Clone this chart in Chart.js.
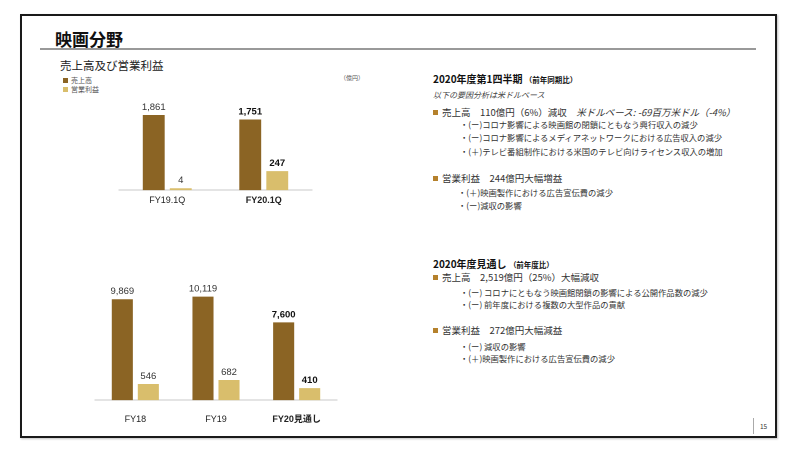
<!DOCTYPE html>
<html>
<head>
<meta charset="utf-8">
<script src="https://cdn.jsdelivr.net/npm/chart.js@4"></script>
<style>
  body { margin: 0; width: 800px; height: 450px; background: #fff; position: relative; overflow: hidden;
         font-family: "Noto Sans CJK JP", "Liberation Sans", sans-serif; color: #222; }
  .abs { position: absolute; white-space: nowrap; }
  #frame { left: 20px; top: 14px; width: 757px; height: 424px; border: 2px solid #1a1a1a; box-sizing: border-box;
           box-shadow: 1px 1px 2px rgba(0,0,0,0.25); }
  #title { left: 55px; top: 26px; font-size: 17px; font-weight: bold; color: #111; }
  #rule { left: 40px; top: 48px; width: 716px; height: 2px; background: #999; }
  #sub { left: 60px; top: 57px; font-size: 11.5px; color: #222; }
  .leg { font-size: 7px; color: #555; }
  .leg i { display: inline-block; width: 5px; height: 5px; margin-right: 3px; vertical-align: 0px; }
  #unit { left: 340px; top: 73px; font-size: 6px; color: #555; }
  .h { font-size: 10px; font-weight: bold; color: #111; }
  .h small { font-size: 7.5px; }
  .it { font-size: 8px; font-style: italic; color: #444; }
  .b { font-size: 9.5px; color: #333; }
  .b i.sq { display: inline-block; width: 5px; height: 5px; background: #b5812c; margin-right: 4px; vertical-align: 1px; }
  .s { font-size: 8.3px; color: #333; }
  #pg { left: 760px; top: 421px; font-size: 6.5px; color: #333; }
  #pgline { left: 753px; top: 418px; width: 1px; height: 16px; background: #aaa; }
  canvas { position: absolute; }
</style>
</head>
<body>
<div class="abs" id="frame"></div>
<div class="abs" id="title">映画分野</div>
<div class="abs" id="rule"></div>
<div class="abs" id="sub">売上高及び営業利益</div>
<div class="abs leg" style="left:63px;top:75px;"><i style="background:#8b6424"></i>売上高</div>
<div class="abs leg" style="left:63px;top:84px;"><i style="background:#d9be6c"></i>営業利益</div>
<div class="abs" id="unit">（億円）</div>

<div class="abs h" style="left:433px;top:71px;">2020年度第1四半期 <small>（前年同期比）</small></div>
<div class="abs it" style="left:433px;top:89px;">以下の要因分析は米ドルベース</div>
<div class="abs b" style="left:433px;top:105px;"><i class="sq"></i>売上高　110億円（6%）減収　<em>米ドルベース: -69百万米ドル（-4%）</em></div>
<div class="abs s" style="left:460px;top:118px;">・(ー)コロナ影響による映画館の閉鎖にともなう興行収入の減少</div>
<div class="abs s" style="left:460px;top:131px;">・(ー)コロナ影響によるメディアネットワークにおける広告収入の減少</div>
<div class="abs s" style="left:460px;top:145px;">・(＋)テレビ番組制作における米国のテレビ向けライセンス収入の増加</div>
<div class="abs b" style="left:433px;top:171px;"><i class="sq"></i>営業利益　244億円大幅増益</div>
<div class="abs s" style="left:458px;top:186px;">・(＋)映画製作における広告宣伝費の減少</div>
<div class="abs s" style="left:458px;top:199px;">・(ー)減収の影響</div>

<div class="abs h" style="left:433px;top:256px;">2020年度見通し <small>（前年度比）</small></div>
<div class="abs b" style="left:433px;top:270px;"><i class="sq"></i>売上高　2,519億円（25%）大幅減収</div>
<div class="abs s" style="left:460px;top:286px;">・(ー) コロナにともなう映画館閉鎖の影響による公開作品数の減少</div>
<div class="abs s" style="left:460px;top:298px;">・(ー) 前年度における複数の大型作品の貢献</div>
<div class="abs b" style="left:433px;top:323px;"><i class="sq"></i>営業利益　272億円大幅減益</div>
<div class="abs s" style="left:460px;top:340px;">・(ー) 減収の影響</div>
<div class="abs s" style="left:460px;top:352px;">・(＋)映画製作における広告宣伝費の減少</div>

<div class="abs" id="pgline"></div>
<div class="abs" id="pg">15</div>

<canvas id="qtrChart" style="left:100px;top:90px;width:230px;height:124px;"></canvas>
<canvas id="yearChart" style="left:80px;top:279px;width:270px;height:163px;"></canvas>

<script>
// Quarter data (億円)
const qtrLabels = ['FY19.1Q', 'FY20.1Q'];
const qtrSales = [1861, 1751];
const qtrProfit = [4, 247];

// Full-year data (億円)
const yearLabels = ['FY18', 'FY19', 'FY20見通し'];
const yearSales = [9869, 10119, 7600];
const yearProfit = [546, 682, 410];

const salesColor = '#8b6424';
const profitColor = '#d9be6c';
const fontFamily = '"Liberation Sans", "Noto Sans CJK JP", sans-serif';

// Draw values above each bar, last category in bold
const valueLabels = {
    id: 'valueLabels',
    afterDatasetsDraw(chart) {
        const ctx = chart.ctx;
        const last = chart.data.labels.length - 1;
        ctx.save();
        ctx.textAlign = 'center';
        ctx.textBaseline = 'bottom';
        chart.data.datasets.forEach((ds, i) => {
            chart.getDatasetMeta(i).data.forEach((bar, j) => {
                ctx.font = (j === last ? 'bold ' : '') + '9.5px ' + fontFamily;
                ctx.fillStyle = j === last ? '#111' : '#333';
                ctx.fillText(ds.data[j].toLocaleString('en-US'), bar.x, bar.y - 3);
            });
        });
        ctx.restore();
    }
};

function makeChart(id, labels, sales, profit, opts) {
    const last = labels.length - 1;
    return new Chart(document.getElementById(id), {
        type: 'bar',
        data: {
            labels: labels,
            datasets: [{
                label: '売上高',
                data: sales,
                backgroundColor: salesColor,
                yAxisID: 'y'
            }, {
                label: '営業利益',
                data: profit,
                backgroundColor: profitColor,
                yAxisID: 'y2',
                minBarLength: 2
            }]
        },
        options: {
            responsive: false,
            animation: false,
            devicePixelRatio: 2,
            categoryPercentage: opts.cat,
            barPercentage: 0.81,
            layout: { padding: opts.padding },
            plugins: { legend: { display: false }, tooltip: { enabled: false } },
            scales: {
                x: {
                    grid: { display: false, drawTicks: false },
                    border: { color: '#c8c8c8', width: 1 },
                    ticks: {
                        padding: opts.tickPad,
                        color: '#222',
                        font: ctx => ({ family: fontFamily, size: 9, weight: ctx.index === last ? 'bold' : 'normal' })
                    }
                },
                y: { display: false, min: 0, max: opts.salesMax },
                y2: { display: false, min: 0, max: opts.profitMax }
            }
        },
        plugins: [valueLabels]
    });
}

makeChart('qtrChart', qtrLabels, qtrSales, qtrProfit, {
    cat: 0.56, tickPad: 5, salesMax: 2481, profitMax: 1300,
    padding: { left: 19, right: 18, top: 0, bottom: 3 }
});

makeChart('yearChart', yearLabels, yearSales, yearProfit, {
    cat: 0.645, tickPad: 14, salesMax: 11843, profitMax: 4095,
    padding: { left: 15, right: 13, top: 0, bottom: 3 }
});
</script>
</body>
</html>
